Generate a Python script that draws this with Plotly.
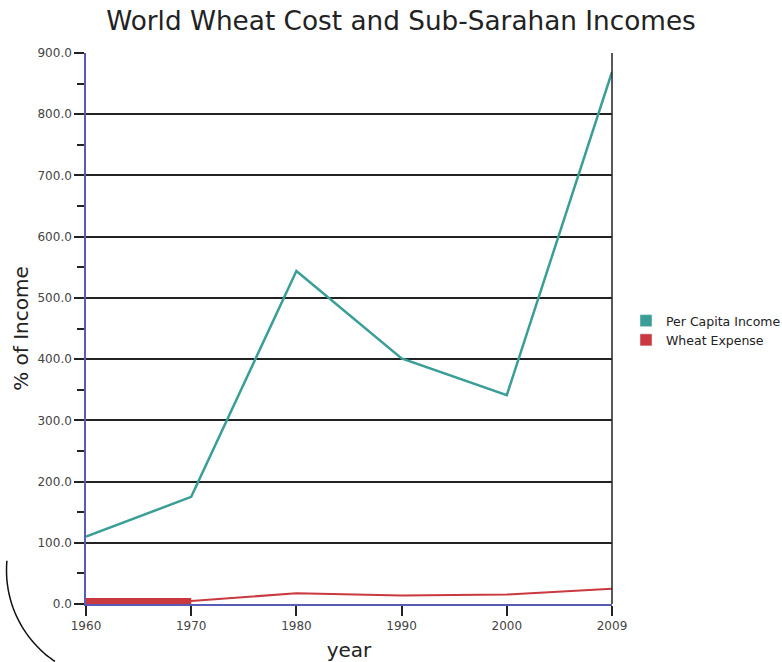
import plotly.graph_objects as go
import numpy as np

# ---- data ----
years = ["1960", "1970", "1980", "1990", "2000", "2009"]
per_capita_income = [110, 175, 544, 401, 341, 869]
wheat_expense = [5, 5, 17.5, 14, 15.5, 25]
series_names = ["Per Capita Income", "Wheat Expense"]
series_colors = ["#3a9e97", "#c9393f"]
y_ticks = [0, 100, 200, 300, 400, 500, 600, 700, 800, 900]

W, H = 782, 662
L, R, T, B = 86, 170, 53, 58
pw, ph = W - L - R, H - T - B

def px2paper(x, y):
    return (x - L) / pw, (H - B - y) / ph

fig = go.Figure()

fig.add_trace(go.Scatter(x=years, y=per_capita_income, mode="lines",
                         line=dict(color=series_colors[0], width=2.5),
                         showlegend=False, hoverinfo="x+y", name=series_names[0]))
# thicker first segment of the wheat series as drawn in the reference
fig.add_trace(go.Scatter(x=years[:2], y=wheat_expense[:2], mode="lines",
                         line=dict(color=series_colors[1], width=6),
                         showlegend=False, hoverinfo="skip"))
fig.add_trace(go.Scatter(x=years, y=wheat_expense, mode="lines",
                         line=dict(color=series_colors[1], width=2),
                         showlegend=False, name=series_names[1]))

# legend swatches (square markers as in the reference)
for nm, c in zip(series_names, series_colors):
    fig.add_trace(go.Bar(x=[None], y=[None], name=nm, marker_color=c,
                         showlegend=True))

# decorative arc in lower-left corner
cx, cy, r = 116.5, 570.3, 110
angs = np.linspace(np.deg2rad(175), np.deg2rad(236), 50)
pts = [px2paper(cx + r * np.cos(a), cy - r * np.sin(a)) for a in angs]
path = "M " + " L ".join(f"{x:.4f},{y:.4f}" for x, y in pts)

fig.update_layout(
    width=W, height=H,
    margin=dict(l=L, r=R, t=T, b=B, autoexpand=False),
    paper_bgcolor="white", plot_bgcolor="white",
    font=dict(family="DejaVu Sans, Verdana, sans-serif", color="#333"),
    title=dict(text="World Wheat Cost and Sub-Sarahan Incomes",
               x=401 / W, xref="container", xanchor="center",
               y=1 - 21 / H, yref="container", yanchor="middle",
               font=dict(size=26.3, color="#222")),
    showlegend=True,
    legend=dict(x=px2paper(626, 0)[0], y=px2paper(0, 306)[1],
                xanchor="left", yanchor="top",
                font=dict(size=12.5, color="#222"),
                bgcolor="rgba(0,0,0,0)", tracegroupgap=0),
    xaxis=dict(type="category", categoryorder="array", categoryarray=years,
               range=[0, len(years) - 1], automargin=False,
               showline=True, linecolor="#5a5ab8", linewidth=1.5,
               ticks="outside", ticklen=10, tickwidth=1.5, tickcolor="#222",
               showgrid=False, zeroline=False,
               tickfont=dict(size=12, color="#444"),
               title=dict(text="year", font=dict(size=20, color="#222"),
                          standoff=12)),
    yaxis=dict(range=[0, 900], tickvals=y_ticks, tickformat=".1f",
               automargin=False,
               showline=True, linecolor="#5a5ab8", linewidth=1.5,
               ticks="outside", ticklen=10, tickwidth=1.5, tickcolor="#222",
               showgrid=True, gridcolor="#222", gridwidth=1.5,
               zeroline=False,
               minor=dict(dtick=50, ticks="outside", ticklen=7,
                          tickcolor="#222", tickwidth=1.5, showgrid=False),
               tickfont=dict(size=12, color="#444"),
               title=dict(text="% of Income", font=dict(size=20, color="#222"),
                          standoff=3)),
    shapes=[
        dict(type="line", xref="paper", yref="paper", x0=1, x1=1, y0=0, y1=1,
             line=dict(color="#222", width=1.5)),
        dict(type="path", xref="paper", yref="paper", path=path,
             line=dict(color="#111", width=1.5), layer="below"),
    ],
)

fig.write_html("out.html")
